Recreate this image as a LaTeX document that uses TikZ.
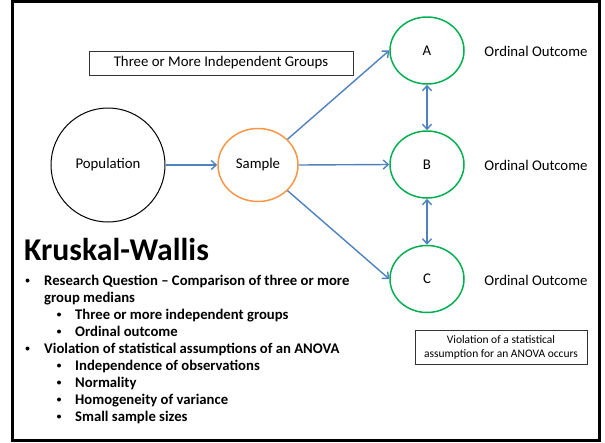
\documentclass[tikz,border=0pt]{standalone}
\usepackage{fontspec}
\setmainfont{Carlito}
\usetikzlibrary{arrows.meta,shapes.geometric}
\definecolor{linkblue}{HTML}{4F81BD}
\definecolor{sampleorange}{HTML}{F79646}
\definecolor{groupgreen}{HTML}{00B050}
\tikzset{
  body/.style={font=\fontsize{14.8}{17}\selectfont},
  groupnode/.style={ellipse, draw=groupgreen, line width=1.5pt, minimum width=74pt, minimum height=67pt, inner sep=0pt, body},
  outcome/.style={body, inner sep=0pt},
  link/.style={draw=linkblue, line width=1.4pt, -{Straight Barb[length=5pt,width=9pt]}},
  duallink/.style={draw=linkblue, line width=1.4pt, {Straight Barb[length=5pt,width=9pt]}-{Straight Barb[length=5pt,width=9pt]}},
  infobox/.style={draw=black!80, line width=0.8pt, inner sep=0pt},
  itemtext/.style={anchor=base west, inner sep=0pt, font=\fontsize{14.7}{17}\selectfont\bfseries},
  dotmark/.style={circle, fill=black, inner sep=0pt, minimum size=4pt},
}
\begin{document}
\begin{tikzpicture}[x=1pt,y=-1pt]
  \useasboundingbox (0,0) rectangle (605,442);
  % slide frame
  \draw[line width=3pt] (12.5,1.5) rectangle (599.5,440.5);

  % population and sample
  \node[circle, draw=black, line width=1pt, minimum size=114pt, inner sep=0pt, body] (pop) at (108,165) {Population};
  \node[ellipse, draw=sampleorange, line width=1.5pt, minimum width=80pt, minimum height=73pt, inner sep=0pt, body] (samp) at (258,165) {Sample};

  % the three groups
  \node[groupnode] (A) at (427,50.5) {A};
  \node[groupnode] (B) at (427,164.5) {B};
  \node[groupnode] (C) at (427,279) {C};

  \node[outcome] (oa) at (536,51) {Ordinal Outcome};
  \node[outcome] (ob) at (536,165) {Ordinal Outcome};
  \node[outcome] (oc) at (536,280) {Ordinal Outcome};

  % connectors
  \draw[link] (pop) -- (samp);
  \draw[link] (samp) -- (A.west);
  \draw[link] (samp.east) -- (B.west);
  \draw[link] (samp) -- (C.west);
  \draw[duallink] (A.south) -- (B.north);
  \draw[duallink] (B.south) -- (C.north);

  % captions
  \node[infobox, minimum width=264pt, minimum height=24pt, body] (groups) at (221,63) {Three or More Independent Groups};
  \node[infobox, minimum width=172pt, minimum height=34pt, align=center, font=\fontsize{11.5}{14}\selectfont] (viol) at (501,347) {Violation of a statistical\\assumption for an ANOVA occurs};

  % title and bullet list
  \node[anchor=base west, inner sep=0pt, font=\fontsize{31.7}{34}\selectfont\bfseries] (title) at (24,260) {Kruskal-Wallis};

  \node[dotmark] (b1) at (27.5,280.5) {};
  \node[itemtext] (l1) at (44,285) {Research Question – Comparison of three or more};
  \node[itemtext] (l2) at (44,302) {group medians};
  \node[dotmark] (b3) at (59,314.5) {};
  \node[itemtext] (l3) at (75,319) {Three or more independent groups};
  \node[dotmark] (b4) at (59,331.5) {};
  \node[itemtext] (l4) at (75,336) {Ordinal outcome};
  \node[dotmark] (b5) at (27.5,348.5) {};
  \node[itemtext] (l5) at (44,353) {Violation of statistical assumptions of an ANOVA};
  \node[dotmark] (b6) at (59,365.5) {};
  \node[itemtext] (l6) at (75,370) {Independence of observations};
  \node[dotmark] (b7) at (59,382.5) {};
  \node[itemtext] (l7) at (75,387) {Normality};
  \node[dotmark] (b8) at (59,399.5) {};
  \node[itemtext] (l8) at (75,404) {Homogeneity of variance};
  \node[dotmark] (b9) at (59,416.5) {};
  \node[itemtext] (l9) at (75,421) {Small sample sizes};
\end{tikzpicture}
\end{document}
